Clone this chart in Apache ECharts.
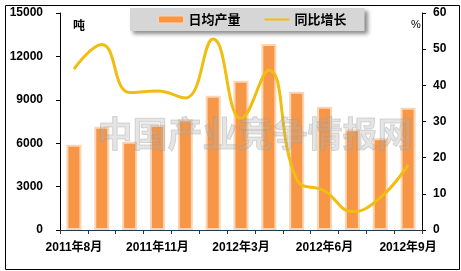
<!DOCTYPE html>
<html><head><meta charset="utf-8">
<script src="https://cdn.jsdelivr.net/npm/echarts@6/dist/echarts.min.js"></script>
<style>html,body{margin:0;padding:0;background:#fff}#c{width:461px;height:271px}</style>
</head><body><div id="c"></div>
<script>
var categories = ['2011年8月','2011年9月','2011年10月','2011年11月','2011年12月','2012年2月','2012年3月','2012年4月','2012年5月','2012年6月','2012年7月','2012年8月','2012年9月'];
var dailyOutput = [5900, 7140, 6100, 7260, 7650, 9280, 10320, 12850, 9560, 8520, 6960, 6340, 8450];
var yoyGrowth = [44.5, 51.3, 38, 38.4, 36.5, 52.8, 30.8, 44.2, 14, 10.8, 5.1, 8.9, 18];
var leftTicks = {min: 0, max: 15000, interval: 3000};
var rightTicks = {min: 0, max: 60, interval: 10};

var FONT = '"Liberation Sans", "Noto Sans CJK SC", sans-serif';
var chart = echarts.init(document.getElementById('c'), null, {renderer: 'canvas'});
chart.setOption({
  animation: false,
  backgroundColor: '#fff',
  textStyle: {fontFamily: FONT},
  grid: {left: 60, right: 39, top: 13, bottom: 41},
  graphic: [
    {type: 'rect', left: 3, top: 3, shape: {width: 454, height: 264}, style: {fill: 'none', stroke: '#000', lineWidth: 1}, z: 0},
    {type: 'text', x: 255, y: 134, style: {text: '中国产业竞争情报网', fontSize: 35, fontWeight: 'bold', fontFamily: '"Noto Sans CJK SC"', fill: 'rgba(175,175,175,0.32)', stroke: 'rgba(150,150,150,0.35)', lineWidth: 1, align: 'center', verticalAlign: 'middle'}, z: 100},
    {type: 'text', left: 73, top: 19, style: {text: '吨', fontSize: 12, fontWeight: 'bold', fill: '#000', fontFamily: '"Noto Sans CJK SC"'}},
    {type: 'text', left: 411, top: 19, style: {text: '%', fontSize: 11, fill: '#000', fontFamily: FONT}}
  ],
  legend: {
    left: 130, top: 8,
    padding: [5, 18, 5, 28],
    itemGap: 23,
    backgroundColor: '#D6D6D6',
    shadowColor: 'rgba(0,0,0,0.45)', shadowBlur: 4, shadowOffsetX: 3, shadowOffsetY: 3,
    textStyle: {fontSize: 13, fontWeight: 'bold', color: '#000', fontFamily: '"Noto Sans CJK SC"'},
    data: [
      {name: '日均产量', icon: 'rect', itemStyle: {color: '#F79646', borderColor: '#FBD5B5', borderWidth: 1}},
      {name: '同比增长', itemStyle: {color: 'rgba(0,0,0,0)', borderWidth: 0, opacity: 0}, lineStyle: {color: '#F0BD10', width: 2}}
    ],
    itemWidth: 25, itemHeight: 7
  },
  xAxis: {
    type: 'category', data: categories, boundaryGap: true,
    axisLine: {lineStyle: {color: '#1F3A4A', width: 1}},
    axisTick: {show: true, interval: 0, length: 4, lineStyle: {color: '#1F3A4A'}},
    axisLabel: {interval: 2, color: '#000', fontSize: 12, fontWeight: 'bold', margin: 12, fontFamily: FONT}
  },
  yAxis: [
    {type: 'value', min: leftTicks.min, max: leftTicks.max, interval: leftTicks.interval,
     splitLine: {show: false},
     axisLine: {show: true, lineStyle: {color: '#000'}},
     axisTick: {show: true, length: 4, lineStyle: {color: '#000'}},
     axisLabel: {color: '#000', fontSize: 12, fontWeight: 'bold', margin: 17, fontFamily: FONT, formatter: function (v) { return String(v); }}},
    {type: 'value', min: rightTicks.min, max: rightTicks.max, interval: rightTicks.interval,
     position: 'right', splitLine: {show: false},
     axisLine: {show: true, lineStyle: {color: '#000'}},
     axisTick: {show: true, length: 4, lineStyle: {color: '#000'}},
     axisLabel: {color: '#000', fontSize: 12, fontWeight: 'bold', margin: 11, fontFamily: FONT, formatter: function (v) { return String(v); }}}
  ],
  series: [
    {name: '日均产量', type: 'bar', data: dailyOutput, barWidth: 15,
     itemStyle: {color: '#F79646', borderColor: '#FBD5B5', borderWidth: 2}},
    {name: '同比增长', type: 'line', yAxisIndex: 1, data: yoyGrowth, smooth: 0.45,
     symbol: 'none', showSymbol: false, lineStyle: {color: '#F0BD10', width: 3}, itemStyle: {color: '#F0BD10'}}
  ]
});
</script></body></html>
